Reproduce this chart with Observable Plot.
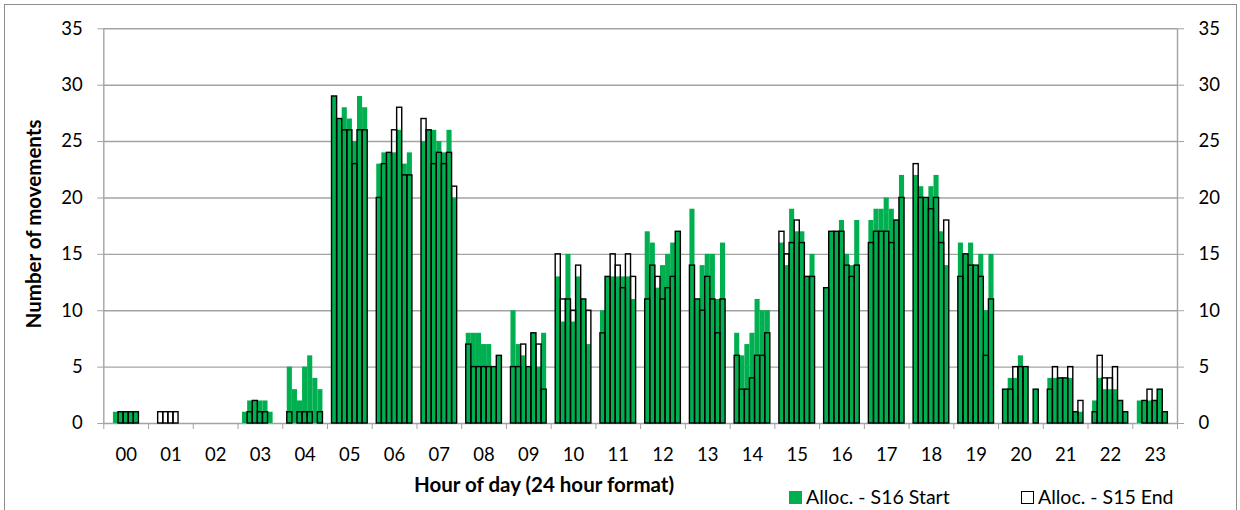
<!DOCTYPE html>
<html>
<head>
<meta charset="utf-8">
<script src="https://cdn.jsdelivr.net/npm/d3@7"></script>
<script src="https://cdn.jsdelivr.net/npm/@observablehq/plot@0.6"></script>
<style>
  html, body { margin: 0; padding: 0; background: #fff; }
  #wrap { position: relative; width: 1240px; height: 510px; overflow: hidden; font-family: Lato, "Liberation Sans", sans-serif; color: #000; }
  #border { position: absolute; left: 4px; top: 4px; width: 1233px; height: 520px; border: 1px solid #8c8c8c; box-sizing: border-box; }
  #chart { position: absolute; left: 0; top: 0; }
  .ytitle { position: absolute; left: 33px; top: 224px; transform: translate(-50%, -50%) rotate(-90deg); font-weight: bold; font-size: 20.5px; white-space: nowrap; }
  .xtitle { position: absolute; left: 544px; top: 484px; transform: translate(-50%, -50%); font-weight: bold; font-size: 20.5px; white-space: nowrap; }
  .leg { position: absolute; top: 486px; font-size: 19.5px; white-space: nowrap; line-height: 22px; }
  .sw { position: absolute; width: 13px; height: 13px; box-sizing: border-box; }
</style>
</head>
<body>
<div id="wrap">
  <div id="border"></div>
  <div id="chart"></div>
  <div class="ytitle">Number of movements</div>
  <div class="xtitle">Hour of day (24 hour format)</div>
  <div class="sw" style="left:789px; top:491px; background:#00B050;"></div>
  <div class="leg" style="left:806px;">Alloc. - S16 Start</div>
  <div class="sw" style="left:1021px; top:491px; background:#fff; border:1.5px solid #000;"></div>
  <div class="leg" style="left:1038px;">Alloc. - S15 End</div>
</div>
<script>
// ---- data: 7 bars per hour ----
const hours = ["00","01","02","03","04","05","06","07","08","09","10","11","12","13","14","15","16","17","18","19","20","21","22","23"];
const yTicks = [0, 5, 10, 15, 20, 25, 30, 35];

const s16Start = [
  [0,1,1,1,1,1,0],
  [0,0,0,0,0,0,0],
  [0,0,0,0,0,0,0],
  [1,2,2,2,2,1,0],
  [5,3,2,5,6,4,3],
  [29,27,28,27,25,29,28],
  [23,24,24,24,26,23,24],
  [25,26,26,25,24,26,20],
  [8,8,8,7,7,5,6],
  [10,7,6,5,8,5,8],
  [13,9,15,9,13,11,7],
  [10,13,13,13,13,13,11],
  [17,16,12,14,15,16,17],
  [19,11,14,15,15,11,16],
  [8,6,7,8,11,10,10],
  [16,14,19,17,17,13,15],
  [12,17,17,18,15,14,18],
  [18,19,19,20,19,18,22],
  [22,21,20,21,22,17,14],
  [16,15,16,14,15,10,15],
  [3,4,4,6,5,0,3],
  [4,4,4,4,4,1,1],
  [2,4,3,3,3,2,1],
  [2,2,2,2,3,1,0]
];

const s15End = [
  [0,0,1,1,1,1,0],
  [0,1,1,1,1,0,0],
  [0,0,0,0,0,0,0],
  [0,1,2,1,1,0,0],
  [1,0,1,1,1,0,1],
  [29,27,26,26,23,26,26],
  [20,23,24,26,28,22,22],
  [27,26,23,24,23,24,21],
  [7,5,5,5,5,5,6],
  [5,5,7,5,8,7,3],
  [15,11,11,10,14,11,10],
  [8,13,15,14,12,15,13],
  [11,14,13,11,12,13,17],
  [14,11,10,13,11,8,11],
  [6,3,3,4,6,6,8],
  [17,15,16,18,16,13,13],
  [12,17,17,17,14,13,14],
  [16,17,17,17,16,18,20],
  [23,20,20,19,20,16,18],
  [13,15,14,14,13,6,11],
  [3,3,5,5,5,0,3],
  [3,5,4,4,5,1,2],
  [1,6,4,4,5,2,1],
  [0,2,3,2,3,1,0]
];

// ---- build tables: bars laid out within each hour band ----
const SLOTS = 7, PAD = 0.89, STEP = 1 / (SLOTS + 2 * PAD);
function table(series) {
  const rows = [];
  series.forEach((vals, h) => vals.forEach((v, s) => {
    if (v > 0) rows.push({hour: hours[h], x1: h + (PAD + s) * STEP, x2: h + (PAD + s + 1) * STEP, v});
  }));
  return rows;
}
const greenRows = table(s16Start);
const blackRows = table(s15End);
const hourCenters = hours.map((_, i) => i + 0.5);
const hourEdges = d3.range(hours.length + 1);

const chart = Plot.plot({
  width: 1240,
  height: 510,
  marginLeft: 103.3,
  marginRight: 63,
  marginTop: 28.3,
  marginBottom: 87,
  x: {domain: [0, 24], axis: null},
  y: {domain: [0, 35], axis: null},
  style: {fontFamily: "Lato, 'Liberation Sans', sans-serif", fontSize: "18px", color: "#000", background: "transparent", overflow: "visible"},
  marks: [
    Plot.ruleY(yTicks, {stroke: "#a3a3a3", strokeWidth: 1.4}),
    Plot.ruleX([0, 24], {stroke: "#a3a3a3", strokeWidth: 1.4}),
    Plot.rectY(greenRows, {x1: "x1", x2: "x2", y: "v", fill: "#00B050"}),
    Plot.rectY(blackRows, {x1: "x1", x2: "x2", y: "v", fill: "none", stroke: "#000", strokeWidth: 1.4}),
    Plot.axisY(yTicks, {anchor: "left", tickSize: 6, tickPadding: 15, stroke: "#a3a3a3", fill: "#000", label: null, fontSize: 18.5}),
    Plot.axisY(yTicks, {anchor: "right", tickSize: 6, tickPadding: 15, stroke: "#a3a3a3", fill: "#000", label: null, fontSize: 18.5}),
    Plot.axisX(hourEdges, {anchor: "bottom", tickSize: 6, tickFormat: () => "", stroke: "#a3a3a3", label: null}),
    Plot.axisX(hourCenters, {anchor: "bottom", tickSize: 0, tickPadding: 24, tickFormat: d => hours[Math.floor(d)], fill: "#000", label: null, fontSize: 18.5})
  ]
});
document.getElementById("chart").appendChild(chart);
</script>
</body>
</html>
